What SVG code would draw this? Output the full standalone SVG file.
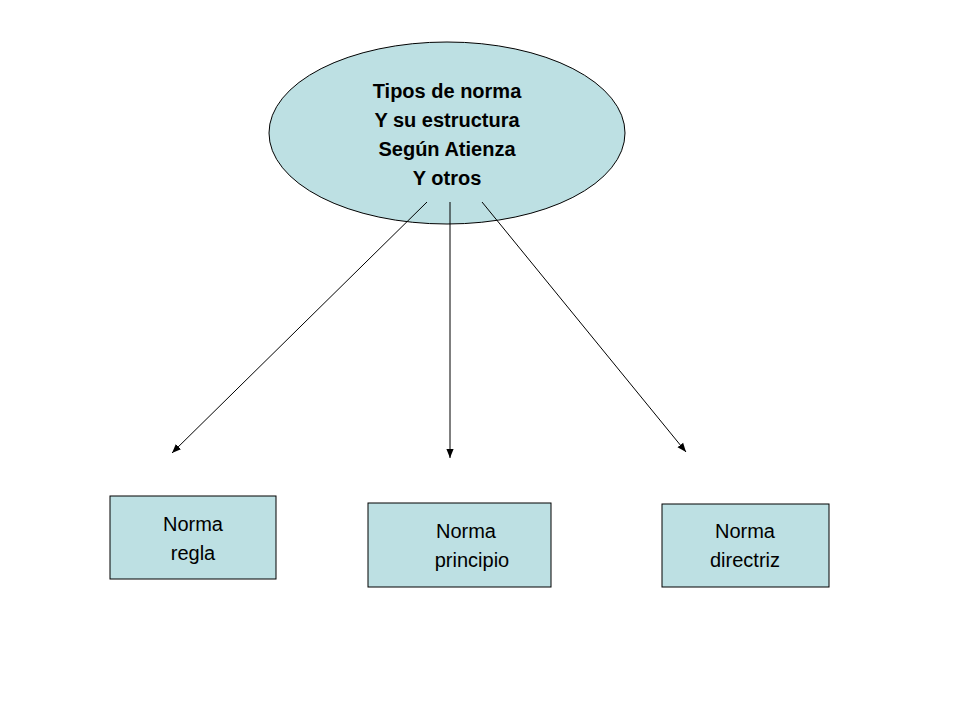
<svg xmlns="http://www.w3.org/2000/svg" width="960" height="720" viewBox="0 0 960 720">
<style>
.n{fill:#bde0e3;stroke:#000;stroke-width:1}
.t{font-family:"Liberation Sans",Arial,sans-serif;font-size:20px;text-anchor:middle;fill:#000}
.b{font-weight:bold}
.c line{stroke:#000;stroke-width:1;marker-end:url(#a)}
</style>
<defs><marker id="a" viewBox="0 0 10 10" refX="10" refY="5" markerWidth="9" markerHeight="9" orient="auto" markerUnits="userSpaceOnUse"><path d="M0,1 L10,5 L0,9 z" fill="#000"/></marker></defs>
<rect width="960" height="720" fill="#fff"/>
<g id="root"><ellipse class="n" cx="447" cy="133" rx="178" ry="91"/>
<text class="t b" x="447" y="98">Tipos de norma</text>
<text class="t b" x="447" y="127">Y su estructura</text>
<text class="t b" x="447" y="156">Según Atienza</text>
<text class="t b" x="447" y="185">Y otros</text></g>
<g id="regla"><rect class="n" x="110" y="496" width="166" height="83"/>
<text class="t" x="193" y="531">Norma</text><text class="t" x="193" y="560">regla</text></g>
<g id="principio"><rect class="n" x="368" y="503" width="183" height="84"/>
<text class="t" x="466" y="538">Norma</text><text class="t" x="472" y="567">principio</text></g>
<g id="directriz"><rect class="n" x="662" y="504" width="167" height="83"/>
<text class="t" x="745" y="538">Norma</text><text class="t" x="745" y="567">directriz</text></g>
<g class="c">
<line x1="427" y1="202" x2="172" y2="453"/>
<line x1="450" y1="202" x2="450" y2="458"/>
<line x1="482" y1="202" x2="686" y2="452"/>
</g>
</svg>
